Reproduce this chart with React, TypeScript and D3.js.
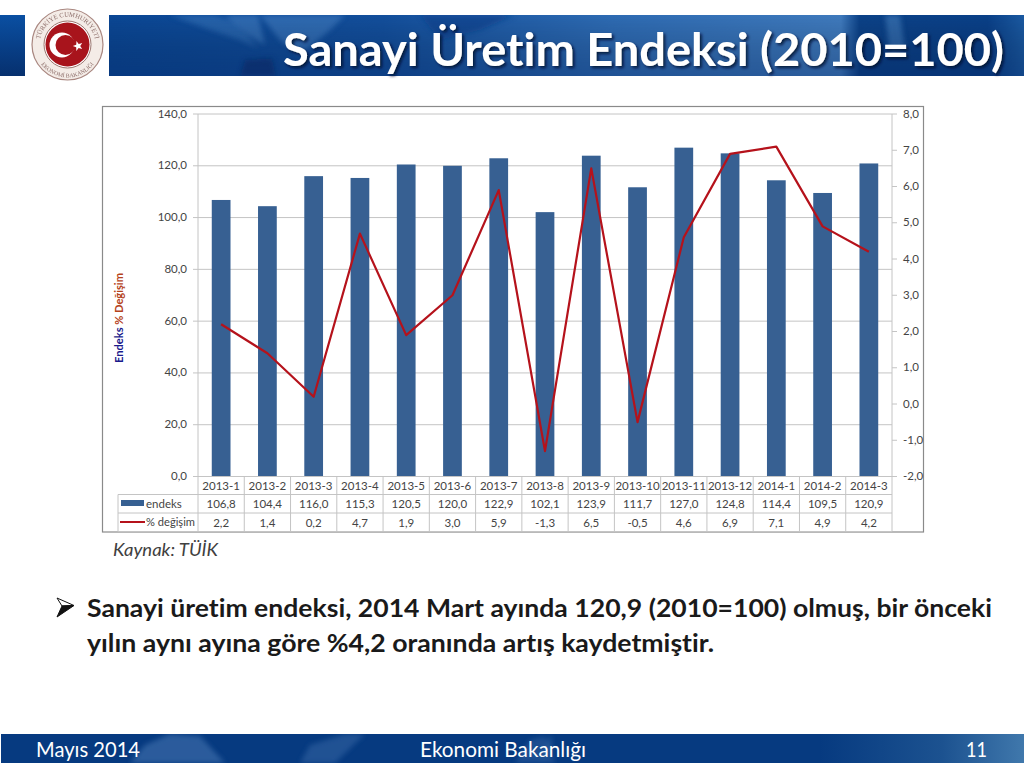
import React from "react";
import * as d3 from "d3";

const categories = ["2013-1","2013-2","2013-3","2013-4","2013-5","2013-6","2013-7","2013-8","2013-9","2013-10","2013-11","2013-12","2014-1","2014-2","2014-3"];
const endeks = [106.8,104.4,116.0,115.3,120.5,120.0,122.9,102.1,123.9,111.7,127.0,124.8,114.4,109.5,120.9];
const degisim = [2.2,1.4,0.2,4.7,1.9,3.0,5.9,-1.3,6.5,-0.5,4.6,6.9,7.1,4.9,4.2];
const leftTicks = [0,20,40,60,80,100,120,140];
const rightTicks = [-2,-1,0,1,2,3,4,5,6,7,8];

const fmt = (v: number) => v.toFixed(1).replace(".", ",");
const FONT = "Lato, 'Noto Sans', sans-serif";

const x = d3.scaleBand<string>().domain(categories).range([198, 892]).paddingInner(0.595).paddingOuter(0.2975);
const yL = d3.scaleLinear().domain([0, 140]).range([476.5, 114]);
const yR = d3.scaleLinear().domain([-2, 8]).range([476.5, 114]);
const cx = (c: string) => (x(c) as number) + x.bandwidth() / 2;
const step = x.step();
const line = d3.line<number>().x((_, i) => cx(categories[i])).y(d => yR(d));

const GRID = "#c4c4c4";
const TXT = "#444444";
const rowY = [476.5, 494.5, 513, 531.5];

const noLig: React.CSSProperties = { fontVariantLigatures: "none" };

export default function App() {
  return (
    <svg width={1024} height={768} viewBox="0 0 1024 768" style={{ position: "absolute", left: 0, top: 0, background: "#fff", ...noLig }} fontFamily={FONT}>
      <defs>
        <linearGradient id="hdrH" x1="109" y1="0" x2="1024" y2="0" gradientUnits="userSpaceOnUse">
          <stop offset="0" stopColor="#0b4795" />
          <stop offset="0.3" stopColor="#134f9c" />
          <stop offset="0.55" stopColor="#2e6bb3" />
          <stop offset="0.8" stopColor="#3f7abd" />
          <stop offset="0.82" stopColor="#0c4288" />
          <stop offset="0.96" stopColor="#0a4088" />
          <stop offset="1" stopColor="#1b5aa2" />
        </linearGradient>
        <linearGradient id="hdrL" x1="0" y1="0" x2="0" y2="1">
          <stop offset="0" stopColor="#0a4fa2" />
          <stop offset="1" stopColor="#06306e" />
        </linearGradient>
        <linearGradient id="shade" x1="0" y1="0" x2="0" y2="1">
          <stop offset="0" stopColor="#000" stopOpacity="0" />
          <stop offset="1" stopColor="#001a50" stopOpacity="0.3" />
        </linearGradient>
        <linearGradient id="ftr" x1="1" y1="0" x2="1024" y2="0" gradientUnits="userSpaceOnUse">
          <stop offset="0" stopColor="#063a80" />
          <stop offset="0.3" stopColor="#063a80" />
          <stop offset="0.8" stopColor="#063a80" />
          <stop offset="0.92" stopColor="#1c5290" />
          <stop offset="1" stopColor="#4078ac" />
        </linearGradient>
        <clipPath id="hdrClip"><rect x={109} y={15} width={915} height={61} /></clipPath>
        <clipPath id="ftrClip"><rect x={1} y={734} width={1023} height={29} /></clipPath>
        <filter id="blur" x="-20%" y="-20%" width="140%" height="140%"><feGaussianBlur stdDeviation="2.5" /></filter>
        <filter id="shadow" x="-5%" y="-20%" width="110%" height="140%">
          <feDropShadow dx="2" dy="2" stdDeviation="1.5" floodColor="#00102e" floodOpacity="0.85" />
        </filter>
        <path id="arcTop" d="M 39.9 49.4 A 28 28 0 1 1 95.1 49.4" />
        <path id="arcBot" d="M 37.6 58.4 A 33 33 0 0 0 97.4 58.4" />
      </defs>

      {/* header */}
      <rect x={0} y={15} width={25} height={61} fill="url(#hdrL)" />
      <rect x={109} y={15} width={915} height={61} fill="url(#hdrH)" />
      <g clipPath="url(#hdrClip)">
        <g filter="url(#blur)">
          <path d="M 170 15 L 215 15 L 235 22 L 258 48 L 240 40 L 205 28 Z" fill="#2f6cb4" opacity={0.7} />
          <path d="M 225 15 L 258 15 L 265 45 L 248 35 Z" fill="#3b78bc" opacity={0.7} />
          <path d="M 260 15 L 345 15 L 330 30 L 300 55 L 280 40 Z" fill="#3a77bc" opacity={0.7} />
          <path d="M 245 60 L 272 58 L 276 76 L 240 76 Z" fill="#0a3478" opacity={0.8} />
          <path d="M 420 15 L 515 15 L 480 30 L 440 40 Z" fill="#0d4490" opacity={0.75} />
          <path d="M 885 15 L 900 15 L 905 50 L 890 55 Z" fill="#3a75b5" opacity={0.7} />
        </g>
        <rect x={109} y={15} width={915} height={61} fill="url(#shade)" />
      </g>

      {/* emblem */}
      <circle cx={67.5} cy={44.5} r={35.5} fill="#f4ece7" stroke="#a98780" strokeWidth={1.2} />
      <circle cx={67.5} cy={44.5} r={23.5} fill="#fff" stroke="#9b7670" strokeWidth={1} />
      <circle cx={67.5} cy={44.5} r={22} fill="#a8141c" />
      <circle cx={62} cy={45} r={12.5} fill="#fff" />
      <circle cx={65.5} cy={45} r={10} fill="#a8141c" />
      <path d={d3.range(10).map(i => {
        const r = i % 2 ? 2.2 : 5.2;
        const a = (i * Math.PI) / 5 - Math.PI / 2 - 0.3;
        return `${i ? "L" : "M"}${78 + r * Math.cos(a)} ${46 + r * Math.sin(a)}`;
      }).join(" ") + "Z"} fill="#fff" />
      <text fontFamily="'Liberation Serif', serif" fontSize={6.6} fill="#8a6a66">
        <textPath href="#arcTop" startOffset="50%" textAnchor="middle">TÜRKİYE CUMHURİYETİ</textPath>
      </text>
      <text fontFamily="'Liberation Serif', serif" fontSize={5.8} fill="#8a6a66">
        <textPath href="#arcBot" startOffset="50%" textAnchor="middle">EKONOMİ BAKANLIĞI</textPath>
      </text>

      <text x={283} y={66} textLength={721} lengthAdjust="spacingAndGlyphs" fontSize={46.5} fontWeight={700} fill="#fff" filter="url(#shadow)">Sanayi Üretim Endeksi (2010=100)</text>

      {/* chart frame */}
      <rect x={102.5} y={106.5} width={821} height={425.5} fill="#fff" stroke="#8a8a8a" strokeWidth={1.2} />

      {/* grid */}
      {leftTicks.map(t => (
        <g key={t}>
          <line x1={193} x2={892} y1={yL(t)} y2={yL(t)} stroke={GRID} strokeWidth={1} />
          <text x={187} y={yL(t) + 3.5} textAnchor="end" fontSize={11.5} fill={TXT}>{fmt(t)}</text>
        </g>
      ))}
      <line x1={198} x2={198} y1={114} y2={476.5} stroke={GRID} />
      <line x1={892} x2={892} y1={114} y2={531.5} stroke={GRID} />
      {rightTicks.map(t => (
        <g key={t}>
          <line x1={892} x2={897} y1={yR(t)} y2={yR(t)} stroke={GRID} />
          <text x={903} y={yR(t) + 3.5} fontSize={11.5} fill={TXT}>{fmt(t)}</text>
        </g>
      ))}

      {/* bars */}
      {categories.map((c, i) => (
        <rect key={c} x={x(c)} y={yL(endeks[i])} width={x.bandwidth()} height={yL(0) - yL(endeks[i])} fill="#376092" />
      ))}
      <path d={line(degisim) as string} fill="none" stroke="#b5121b" strokeWidth={2.2} strokeLinejoin="round" />

      {/* data table */}
      {rowY.map((y, i) => (
        <line key={i} x1={i === 0 ? 198 : 118} x2={892} y1={y} y2={y} stroke={GRID} />
      ))}
      <line x1={118} x2={118} y1={494.5} y2={531.5} stroke={GRID} />
      {categories.map(c => (
        <line key={c} x1={(x(c) as number) - (step - x.bandwidth()) / 2} x2={(x(c) as number) - (step - x.bandwidth()) / 2} y1={476.5} y2={531.5} stroke={GRID} />
      ))}
      {categories.map((c, i) => (
        <g key={c} fontSize={11.5} fill={TXT} textAnchor="middle">
          <text x={cx(c)} y={489.5}>{c}</text>
          <text x={cx(c)} y={508}>{fmt(endeks[i])}</text>
          <text x={cx(c)} y={527}>{fmt(degisim[i])}</text>
        </g>
      ))}
      <rect x={121} y={500} width={23} height={6} fill="#376092" />
      <text x={146} y={508} fontSize={11.5} fill={TXT}>endeks</text>
      <line x1={120} x2={145} y1={522} y2={522} stroke="#b5121b" strokeWidth={2} />
      <text x={146} y={526} fontSize={11.5} fill={TXT} textLength={49} lengthAdjust="spacingAndGlyphs">% değişim</text>

      {/* axis title */}
      <text transform="translate(123,363) rotate(-90)" fontSize={11.5} fontWeight={700} fill="#1a1a8c" textLength={90} lengthAdjust="spacingAndGlyphs">
        Endeks <tspan fill="#b5431b">% Değişim</tspan>
      </text>

      <text x={113} y={556} fontSize={18} fontStyle="italic" fill="#404040" textLength={105} lengthAdjust="spacingAndGlyphs">Kaynak: TÜİK</text>

      {/* bullet */}
      <path d="M 57 598 L 74 605.5 L 62 606 Z" fill="#fff" stroke="#111" strokeWidth={1} strokeLinejoin="round" />
      <path d="M 57 617 L 74 605.5 L 62 606 Z" fill="#111" stroke="#111" strokeWidth={1} strokeLinejoin="round" />
      <g fontSize={25} fontWeight={700} fill="#1a1a1a">
        <text x={87} y={617} textLength={905} lengthAdjust="spacingAndGlyphs">Sanayi üretim endeksi, 2014 Mart ayında 120,9 (2010=100) olmuş, bir önceki</text>
        <text x={87} y={652} textLength={627} lengthAdjust="spacingAndGlyphs">yılın aynı ayına göre %4,2 oranında artış kaydetmiştir.</text>
      </g>

      {/* footer */}
      <rect x={1} y={734} width={1023} height={29} fill="url(#ftr)" />
      <g clipPath="url(#ftrClip)">
        <g filter="url(#blur)" fill="#3a6ba8" opacity={0.7}>
          <path d="M 130 763 L 145 745 L 170 734 L 200 736 L 225 763 Z" />
          <path d="M 300 763 L 310 745 L 345 734 L 365 734 L 335 763 Z" opacity={0.7} />
          <path d="M 515 763 L 530 740 L 545 736 L 555 763 Z" opacity={0.6} />
          <path d="M 540 763 L 548 740 L 551 734 L 552 750 Z" opacity={0.8} />
        </g>
      </g>
      <g fontSize={21} fill="#fff">
        <text x={36} y={757} textLength={104} lengthAdjust="spacingAndGlyphs">Mayıs 2014</text>
        <text x={420} y={757} textLength={166} lengthAdjust="spacingAndGlyphs">Ekonomi Bakanlığı</text>
        <text x={966} y={757} textLength={21} lengthAdjust="spacingAndGlyphs">11</text>
      </g>
    </svg>
  );
}
